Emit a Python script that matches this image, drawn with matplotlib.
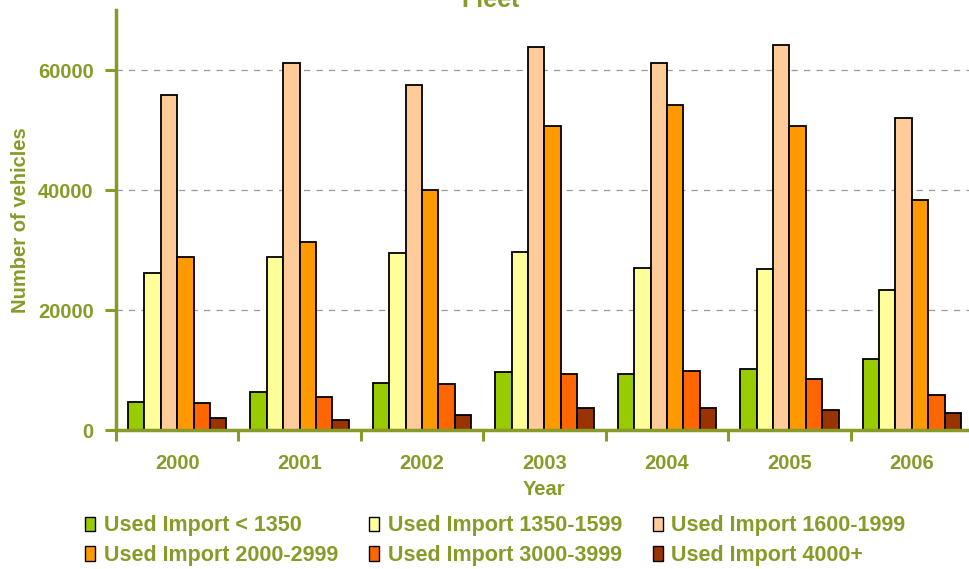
import matplotlib
matplotlib.use("Agg")
import matplotlib.pyplot as plt
import numpy as np
from matplotlib.patches import Patch

years = ["2000", "2001", "2002", "2003", "2004", "2005", "2006"]
series_names = ["Used Import < 1350", "Used Import 1350-1599", "Used Import 1600-1999",
                "Used Import 2000-2999", "Used Import 3000-3999", "Used Import 4000+"]
lt1350 = [4700, 6400, 7800, 9600, 9400, 10200, 11900]
s1350_1599 = [26200, 28900, 29500, 29700, 27000, 26800, 23400]
s1600_1999 = [55900, 61100, 57500, 63900, 61100, 64200, 52000]
s2000_2999 = [28900, 31400, 40000, 50700, 54200, 50700, 38300]
s3000_3999 = [4450, 5500, 7700, 9400, 9900, 8500, 5850]
s4000p = [1950, 1650, 2450, 3600, 3600, 3300, 2800]
series = [lt1350, s1350_1599, s1600_1999, s2000_2999, s3000_3999, s4000p]
colors = ["#99CC00", "#FFFF99", "#FFCC99", "#FF9900", "#FF6600", "#993300"]

olive = "#889A28"
plt.rcParams['font.family'] = ['Liberation Sans', 'DejaVu Sans']
plt.rcParams['font.weight'] = 'bold'

fig = plt.figure(figsize=(9.7, 5.69), dpi=100)
ax = fig.add_axes([116/970, 1-430/569, 857/970, 420/569])

x = np.arange(len(years))
w = 0.134
handles = []
for i, (vals, c) in enumerate(zip(series, colors)):
    b = ax.bar(x + (i - 2.5) * w, vals, width=w, color=c, edgecolor='black', linewidth=1.3,
               label=series_names[i], zorder=3)
    handles.append(b)

fs = 14.5
ax.set_xlim(-0.5, 6.5)
ax.set_ylim(0, 70000)
ax.set_yticks([0, 20000, 40000, 60000])
ax.set_yticklabels(["0", "20000", "40000", "60000"])
ax.set_xticks(x)
ax.set_xticklabels(years)
ax.set_xticks(np.arange(-0.5, 7, 1), minor=True)
ax.tick_params(axis='x', which='major', length=0, pad=17, labelsize=fs, labelcolor=olive)
ax.tick_params(axis='x', which='minor', length=8, width=2.2, color=olive, direction='out')
ax.tick_params(axis='y', length=8, width=2.2, color=olive, direction='out', pad=8,
               labelsize=fs, labelcolor=olive)
for lab in ax.get_xticklabels() + ax.get_yticklabels():
    lab.set_fontweight('bold')

for s in ['top', 'right']:
    ax.spines[s].set_visible(False)
for s in ['left', 'bottom']:
    ax.spines[s].set_color(olive)
    ax.spines[s].set_linewidth(2.5)
ax.spines['bottom'].set_zorder(5)

ax.yaxis.grid(True, linestyle=(0, (5, 5)), color='#999999', linewidth=0.9, zorder=0)
ax.set_axisbelow(True)

ax.set_ylabel("Number of vehicles", color=olive, fontsize=fs, fontweight='bold', labelpad=6)
ax.set_xlabel("Year", color=olive, fontsize=fs, fontweight='bold', labelpad=5)

fig.text(0.506, 1-7/569, "Fleet", ha='center', va='baseline', color=olive,
         fontsize=18, fontweight='bold')

order = [0, 3, 1, 4, 2, 5]
leg_handles = [Patch(facecolor=colors[i], edgecolor='black', linewidth=1.0) for i in order]
leg_labels = [series_names[i] for i in order]
leg = fig.legend(leg_handles, leg_labels, ncol=3, loc='upper left',
                 bbox_to_anchor=(79/970, 1-509/569), frameon=False, borderaxespad=0,
                 handlelength=0.45, handleheight=0.65, handletextpad=0.4,
                 columnspacing=1.45, labelspacing=0.4, fontsize=15.5, borderpad=0.3)
for t in leg.get_texts():
    t.set_color(olive)
    t.set_fontweight('bold')

fig.savefig("out.png", dpi=100)
